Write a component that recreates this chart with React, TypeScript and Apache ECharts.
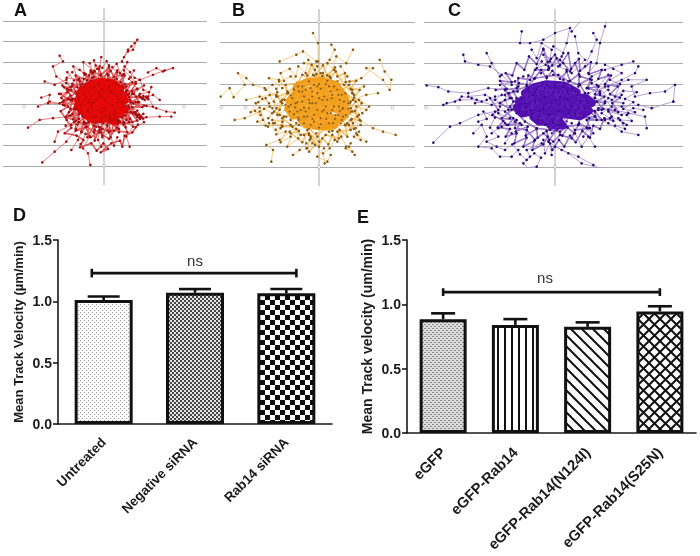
import React, { useEffect, useRef } from "react";
import * as echarts from "echarts";

// ---- spider plots: track coordinates (flat x,y lists) ----
const gridStep = 62;
const tracksA: number[][] = [
  [54,127,72,162,82,172,92,182,100,192,87,162,72,157,60,140],
  [132,94,157,107,177,97,207,107,182,100,147,87,107,72,67,52],
  [212,-26,187,-23,157,-13,127,-6,87,2,47,7],
  [202,-38,167,-38,127,-40,107,-43,87,-28,57,-23],
  [167,12,147,27,117,17,97,22,67,12],
  [142,50,132,22,147,-8,120,-5,100,5],
  [127,22,115,15,105,25,122,12,110,20,128,18,118,24,132,14],
  [118,-30,100,-35,108,-45,95,-30,112,-40,102,-32],
  [77,-128,67,-98,87,-68,67,-48,37,-38],
  [-41,-183,-48,-148,-63,-133,-43,-98,-23,-68],
  [-8,-128,-18,-108,-13,-78,-3,-58],
  [-185,-175,-148,-143,-113,-113,-83,-78,-53,-58],
  [-228,-71,-193,-48,-153,-43,-113,-38,-73,-28],
  [-148,-113,-138,-83,-98,-63,-63,-38],
  [-98,-138,-78,-108,-68,-83,-48,-48],
  [-198,-8,-163,7,-123,-3,-83,2],
  [-178,67,-148,57,-113,72,-98,42,-63,22],
  [-188,19,-163,27,-168,2,-133,2,-100,12],
  [-133,144,-123,127,-153,112,-143,82,-113,62,-78,37],
  [-73,102,-58,87,-73,67,-53,42],
  [-8,140,-13,112,-28,97,-18,62],
  [-43,122,-33,92,3,52],
  [25,110,40,95,30,70,55,85,45,50],
  [70,125,60,100,80,80,95,65,50,40],
  [75,-10,100,-20,120,-55,95,-70,60,-55],
  [40,-100,30,-125,15,-85,-5,-100,-15,-70],
  [-70,-120,-55,-90,-85,-75,-60,-55],
  [-115,-65,-90,-55,-105,-35,-75,-30],
  [-135,30,-110,35,-120,10,-90,15],
  [-110,95,-90,70,-100,50,-70,55,-55,30],
  [-30,130,-20,105,-45,85,-30,60],
  [90,100,75,75,100,45,120,55,85,30],
  [90,30,105,5,80,-25,100,-50,60,-60,70,-85,30,-80,15,-105,-15,-85,-40,-100,-55,-70,-85,-80,-85,-50,-115,-40,-100,-15,-125,5,-100,25,-120,50,-80,50,-85,85,-50,70,-40,100,-10,85,15,110,30,80,60,90,55,55,95,60,75,30],
  [70,15,85,-10,65,-35,75,-55,40,-60,45,-75,10,-80,-5,-75,-30,-85,-60,-60,-75,-55,-95,-30,-85,-5,-105,15,-85,35,-95,55,-65,60,-60,75,-30,80,-15,70,10,90,30,65,50,65,70,40],
  [-130,30,-110,15,-118,-5,-95,10,-105,-25,-88,-10,-92,-45,-72,-20,-80,-62,-60,-40,-68,-85,-45,-55,-50,-100,-30,-65,-28,-110,-12,-70,-5,-95,10,-65,20,-100,28,-60,45,-85,42,-55,65,-70,55,-40,85,-55,70,-25,98,-35,75,-10,115,-10,80,5,110,20,75,20,100,45,65,35,85,65,50,50,62,85,35,55,40,100,15,62,15,115,0,70,-15,105,-18,68,-38,95,-35,60,-55,90,-52,50,-75,75,-68,40,-95,60,-82,28,-110,45,-95,15],
  [-100,-35,-75,-45,-90,-15,-62,-28,-80,5,-55,-12,-78,25,-52,12,-72,48,-48,30,-55,60,-30,40,-35,78,-12,48,-10,88,8,55,12,85,30,50,38,75,48,40,62,60,68,28,85,38,78,12,95,5,72,-5,90,-25,62,-18,78,-45,50,-30,58,-58,35,-38,38,-72,15,-42,18,-82,-5,-48,-8,-85,-25,-48,-28,-78,-45,-40,-52,-68,-65,-35],
  [-125,55,-105,42,-128,18,-108,-8,-130,-22,-112,-48,-98,-72,-118,-88,-82,-95,-62,-108,-72,-130,-38,-118,-22,-140,-2,-118,12,-135,-10,-145,22,-118,48,-110,55,-128,62,-95,85,-85,102,-62],
  [-95,95,-112,78,-78,72,-92,112,-60,92,-62,125,-30,98,-25,115,-5,108,8,128,20,98,38,120,48,92,62,112,78,95,92,78,108,72,118,42,135,35,108,30],
  [25,-48,38,-52,30,-42,45,-50,35,-60,22,-55,40,-45,28,-58,48,-55],
  [95,-25,105,-32,112,-38,100,-40,118,-44,108,-36],
];
const coreA: number[] = [-68,38,-40,58,-10,66,25,62,48,44,-20,45,-70,26,-78,10,-40,20,10,30,52,30,62,10,20,12,-35,0,-78,-8,-62,-24,-20,-12,30,-5,60,-16,42,-32,0,-25,-50,-36,-30,-48,10,-44,30,-52,20,-38,-20,40,30,50,0,54,-50,44,-60,0,-15,8,45,18,15,-18,-40,-26];
const innerA: number[][] = [
  [-60,30,-30,50,-10,20,15,55,35,25,55,40,40,5,65,-5,30,-20,50,-40,15,-35,0,-10,-25,-40,-50,-20,-30,5,-70,-5,-55,20,-15,35,5,10,25,-5,-5,-25,-35,-15,-45,10,-20,15,-5,45,20,35,45,15],
  [-10,-55,5,-35,22,-52,35,-40,28,-30,40,-50,18,-44,10,-60,30,-48,-5,-42,-25,-56,-35,-40],
  [-75,15,-85,-15,-65,-30,-80,30,-60,50,-40,70,-15,55,10,72,35,60,60,50,72,25,55,5,75,-15,60,-35],
];
const tracksB: number[][] = [
  [-295,25,-268,50,-256,23,-223,60,-243,95,-218,80,-198,60,-163,50,-128,25],
  [-18,215,-3,185,-3,130,-18,90,2,55],
  [-118,130,-68,150,-48,160,-8,130,-38,75],
  [37,180,47,165,32,135,12,95],
  [102,165,82,125,52,145,32,85],
  [182,135,197,100,217,75,212,45,192,75,142,110,162,110,127,80,92,70],
  [230,-90,192,-80,162,-70,122,-45,92,-25],
  [177,35,142,30,102,15,72,5],
  [142,-15,112,-5,92,5,120,-30,100,-20],
  [142,-110,112,-85,102,-55,72,-35],
  [107,-150,82,-125,67,-95,52,-55],
  [17,-175,12,-145,32,-130,47,-105,22,-65],
  [-38,-130,-28,-105,-8,-85],
  [-78,-150,-58,-135,-38,-115,-45,-90],
  [-143,-170,-138,-135,-158,-120,-118,-105,-88,-80,-68,-55],
  [-253,-45,-223,-40,-178,-20,-148,-5],
  [-153,-65,-133,-55,-98,-35],
  [-218,15,-178,25,-128,30,-103,15],
  [-190,5,-160,20,-140,-10,-115,10,-125,-30,-100,-15],
  [-120,70,-85,85,-60,65,-95,40,-120,75,-150,80,-110,50],
  [-45,125,-5,115,25,125,45,105,10,85],
  [65,115,85,85,55,70,100,45,135,55],
  [-150,-55,-130,-75,-110,-50,-140,-45,-115,-70],
  [15,-130,-5,-155,25,-170,35,-150],
  [-25,-100,-35,-130,-20,-115,-30,-90],
  [115,-90,125,-105,105,-95,120,-80],
  [90,-125,100,-140,80,-130,95,-115],
  [100,35,130,-25,150,-5,120,15],
  [95,-45,125,-60,110,-70,90,-60],
  [105,30,90,60,70,45,110,10,95,-10,115,-35,85,-55,95,-75,55,-80,60,-100,20,-90,0,-110,-30,-85,-55,-90,-80,-65,-110,-65,-105,-35,-135,-20,-110,5,-125,25,-95,35,-100,60,-65,65,-50,90,-20,75,5,95,35,80,50,100,75,60,100,35],
  [85,15,95,-20,70,-45,80,-60,40,-65,30,-80,-5,-70,-35,-75,-60,-60,-85,-45,-90,-20,-100,0,-85,25,-75,50,-40,60,-25,70,10,70,30,65,60,60,80,30],
  [-170,18,-150,5,-165,-12,-140,-25,-152,-40,-128,-10,-148,30,-125,38,-135,10,-118,-30,-138,-55,-112,-62,-128,-88,-100,-80,-115,-112,-85,-95,-95,-125,-62,-100,-68,-72],
  [-30,-140,-12,-120,-25,-95,0,-125,10,-100,28,-118,40,-90,55,-110,62,-75,85,-95,78,-60,105,-72,98,-42,125,-48,108,-18,128,5,105,22,122,45,95,48,112,72,80,68,78,95,55,85,48,112,25,88,12,118,-8,92,-22,120,-35,88],
  [-160,45,-140,60,-128,48,-105,72,-115,95,-88,108,-70,85,-62,115,-40,95,-32,135,-12,105],
  [-175,-30,-192,-18,-168,-45,-185,-50,-160,-62,-178,-8,-205,-22,-182,8],
  [-110,-40,-85,-60,-60,-78,-85,-85,-50,-112,-30,-70,-5,-95,20,-65,40,-78,65,-55,85,-35,75,-10,95,10,78,35,60,50,35,72,10,85,-15,88,-45,72,-70,55,-92,35,-110,15,-118,-15],
];
const coreB: number[] = [-65,55,-35,68,10,72,48,60,65,40,0,50,-70,32,-88,12,-40,25,20,32,78,20,80,0,30,8,-50,5,-92,-10,-78,-32,-20,-15,45,-10,82,-22,64,-44,10,-32,-55,-42,-38,-58,18,-52,46,-60,15,-65,-15,-62,-45,-25,-70,-15,-10,-2,60,8,20,45,-30,42,-70,18];
const innerB: number[][] = [
  [-80,20,-60,40,-70,5,-45,25,-55,-15,-30,15,-40,45,-15,60,-20,25,5,48,10,15,30,55,38,20,55,45,62,15,45,-5,72,-10,50,-30,68,-45,35,-25,30,-55,10,-20,5,-58,-15,-30,-25,-60,-40,-20,-62,-38,-72,-8,-88,-20],
  [-85,0,-65,-20,-50,10,-30,-10,-10,5,15,-15,25,15,40,-15,60,-5,75,10,58,30,35,40,15,25,-5,35,-25,50,-50,40,-62,55,-30,70,0,62,25,72,45,55],
  [-60,-45,-45,-55,-20,-42,0,-68,22,-42,42,-55,58,-30,80,-30,70,-12,88,5,62,-18,20,-5,-5,-15,-35,-35,-15,-50,5,-40,25,-25,48,-42],
  [-75,45,-50,55,-20,40,0,20,-20,5,-45,-8,-65,8,-85,28,-92,-5,-75,-28,-45,-35,-28,5,-5,55,20,62,40,30,68,30,88,-12,72,-35],
];
const tracksC: number[][] = [
  [50,220,80,255,130,265,160,265,150,235,135,185,125,125,100,95],
  [-100,220,-105,185,-75,185,-35,195,0,215,45,230,35,185,20,145],
  [-70,165,-55,140,-40,185,-10,165,-20,115],
  [60,205,70,155,90,135,50,95],
  [115,215,125,195,110,160,90,115],
  [-275,150,-270,130,-230,120,-195,115,-160,90,-130,60],
  [-205,155,-190,125,-165,85],
  [-385,58,-350,53,-320,40,-260,35,-200,50,-150,45],
  [-335,0,-285,15,-235,15,-190,0,-150,15],
  [-325,5,-300,10,-280,25,-250,20,-220,10,-240,5,-205,15],
  [-365,-113,-315,-65,-285,-55,-230,-30,-180,-20,-140,-15],
  [-245,-85,-220,-60,-205,-95,-230,-125,-190,-130,-165,-155,-130,-155,-110,-135],
  [-190,-85,-170,-70,-150,-55],
  [-110,-205,-70,-200,-95,-175,-75,-155,-85,-135,-40,-115],
  [160,-205,115,-180,70,-155,20,-135,-20,-110],
  [155,-195,80,-175,40,-145,0,-125],
  [250,-90,200,-80,160,-55,120,-35],
  [275,-70,270,-35,220,-25,180,-15,130,-10],
  [355,10,360,60,330,40,285,35,240,25,230,55,275,75,220,75,160,55,100,35],
  [235,130,200,120,150,105,110,85,70,55],
  [250,115,240,95,200,75,150,55],
  [355,10,290,-10,250,0,200,-5,140,-15],
  [120,-125,100,-95,80,-125,60,-85,50,-55],
  [-10,-150,-15,-115,-30,-145,-35,-105],
  [85,-95,100,-70,115,-85,70,-60],
  [205,-55,190,-40,215,-60,170,-35,150,-45],
  [265,-15,235,-10,200,-30,160,-20],
  [200,30,170,15,205,5,150,10,120,20],
  [-150,-115,-130,-85,-160,-65,-120,-50,-100,-60],
  [-35,165,-15,130,10,115,35,105,25,75,-5,90],
  [-95,85,-120,70,-165,60,-140,35,-110,55],
  [-260,25,-210,30,-180,15,-160,30,-130,20],
  [130,-15,160,20,130,55,160,90,110,65,135,35],
  [-20,105,5,140,25,125,45,100,60,125,75,85,110,75,95,50,135,40,110,15,150,5,120,-20,140,-45,95,-45,105,-70,60,-75,50,-100,15,-90,-5,-110,-35,-85,-60,-105,-85,-75,-120,-70,-115,-45,-160,-40,-130,-15,-165,5,-135,20,-150,45,-115,50,-110,80,-75,75,-60,105,-20,105],
  [90,35,125,10,100,-15,120,-35,75,-40,70,-60,35,-65,15,-80,-15,-75,-55,-70,-90,-50,-115,-25,-135,-5,-115,20,-125,40,-85,55,-60,80,-25,85,10,90,40,70,75,60,90,35],
  [-165,-5,-180,25,-150,30,-135,-40,-170,-25,-145,-60],
  [165,-40,140,-25,170,-5,135,30,160,45,125,60],
  [-195,20,-170,-15,-188,-30,-155,-48,-172,-68,-135,-72,-148,-95,-115,-85,-122,-115,-85,-98,-95,-125,-62,-108,-68,-135,-35,-118,-22,-95,-8,-135,12,-105,28,-125,45,-92,62,-112,82,-78,105,-98,115,-62,135,-72,148,-40,175,-48,160,-15,190,-22,172,5,195,22,165,32,188,55,150,62,168,88,130,78,140,105,102,92,108,128,75,102,72,138,48,108,40,155,15,118,0,150,-22,128,-35,168,-55,122,-78,145,-92,105,-115,125,-128,88,-148,95,-130,68,-165,72,-145,48,-178,45],
  [-150,-20,-125,-40,-140,-60,-105,-55,-118,-80,-82,-65,-88,-92,-55,-72,-52,-98,-25,-78,-18,-105,5,-75,22,-92,38,-68,58,-85,72,-55,95,-68,102,-40,125,-45,118,-18,145,-12,125,10,148,25,120,32,130,55,100,50,105,78,72,62,72,92,45,72,35,100,15,78,-8,102,-25,80,-42,105,-62,78,-80,88,-85,60,-108,65,-112,40,-138,35,-125,10],
  [180,-62,210,-72,195,-45,230,-48,215,-30,240,-22,205,-12,235,8,210,18,245,38,205,42,180,25,195,62,165,75,200,95,175,108,150,120],
  [-230,-50,-205,-42,-215,-20,-180,-38,-195,-68,-170,-95,-205,-110,-175,-125,-150,-135,-128,-118,-105,-148,-85,-165,-62,-145,-42,-158,-55,-185,-85,-188,-100,-195],
  [-40,130,-55,110,-28,120,-12,138,-35,150,-18,110,-42,95,-8,118,15,135,25,155,-5,175],
];
const coreC: number[] = [-90,35,-65,52,-25,62,28,58,65,38,0,46,-85,24,-108,8,-60,20,20,30,92,20,110,5,40,10,-50,2,-115,-8,-98,-26,-30,-10,45,-5,102,-18,75,-34,10,-26,-65,-36,-48,-50,10,-46,24,-62,-12,-62,-35,-20,-75,-15,5,-12,75,-15,70,12,15,18,-35,35,-75,12];
const innerC: number[][] = [
  [-100,20,-80,40,-88,5,-65,28,-72,-15,-45,15,-55,45,-25,60,-30,25,0,50,5,15,25,52,38,20,62,40,75,12,52,-5,88,-8,60,-28,85,-35,42,-25,35,-50,10,-20,5,-60,-15,-30,-25,-58,-45,-20,-70,-35,-88,-8,-105,-20],
  [-105,0,-85,-20,-60,10,-35,-10,-10,5,15,-15,28,15,45,-15,70,-5,95,10,68,30,38,42,15,25,-5,38,-30,50,-60,40,-78,50,-38,65,0,60,28,62,52,50],
  [-30,-60,-15,-75,-5,-55,8,-72,-10,-85,15,-60,-5,-45,20,-40,-20,-30,-50,-45,-70,-28],
];

const tickA = [[-240, -8], [240, -8], [0, 248], [0, -186]];
const tickB = [[-293, -8], [-220, -8], [220, -8], [0, 248], [0, -186]];
const tickC = [[-387, -8], [-290, -8], [292, -8], [0, 248], [0, -186]];

// ---- bar charts ----
const catsD = ["Untreated", "Negative siRNA", "Rab14 siRNA"];
const valsD = [1.01, 1.07, 1.065];
const errsD = [0.03, 0.03, 0.035];
const catsE = ["eGFP", "eGFP-Rab14", "eGFP-Rab14(N124I)", "eGFP-Rab14(S25N)"];
const valsE = [0.885, 0.84, 0.825, 0.945];
const errsE = [0.045, 0.045, 0.035, 0.04];
const bracketD = { from: -0.13, to: 2.11, value: 1.23, lo: 1.195, hi: 1.265 };
const bracketE = { from: 0, to: 3, value: 1.095, lo: 1.065, hi: 1.125 };
const titleD = "Mean Track Velocity (µm/min)";
const titleE = "Mean Track velocity (um/min)";

function tile(w: number, h: number, bg: string, draw: (c: CanvasRenderingContext2D) => void) {
  const cv = document.createElement("canvas");
  cv.width = w;
  cv.height = h;
  const c = cv.getContext("2d")!;
  c.fillStyle = bg;
  c.fillRect(0, 0, w, h);
  draw(c);
  return { image: cv, repeat: "repeat" as const };
}

function patterns() {
  const sparse = tile(4, 4, "#fff", (c) => {
    c.fillStyle = "#9a9a9a";
    c.fillRect(0, 0, 1, 1);
    c.fillRect(2, 2, 1, 1);
  });
  const fine = tile(4, 4, "#e4e4e4", (c) => {
    c.fillStyle = "#444";
    c.fillRect(0, 0, 2, 2);
    c.fillRect(2, 2, 2, 2);
  });
  const checks = tile(10, 10, "#fff", (c) => {
    c.fillStyle = "#0c0c0c";
    c.fillRect(0, 0, 5, 5);
    c.fillRect(5, 5, 5, 5);
  });
  const speck = tile(4, 4, "#dcdcdc", (c) => {
    c.fillStyle = "#8c8c8c";
    c.fillRect(0, 0, 2, 1);
    c.fillRect(2, 2, 2, 1);
  });
  const vertical = tile(7, 2, "#fff", (c) => {
    c.fillStyle = "#111";
    c.fillRect(0, 0, 2, 2);
  });
  const stroke = (c: CanvasRenderingContext2D, pts: number[][]) => {
    c.strokeStyle = "#111";
    c.lineWidth = 2;
    pts.forEach((p) => {
      c.beginPath();
      c.moveTo(p[0], p[1]);
      c.lineTo(p[2], p[3]);
      c.stroke();
    });
  };
  const n = 11;
  const diag = tile(n, n, "#fff", (c) =>
    stroke(c, [[-n, -n, n, n], [0, -n, 2 * n, n], [-n, 0, n, 2 * n]])
  );
  const cross = tile(n, n, "#fff", (c) =>
    stroke(c, [[-n, -n, n, n], [0, -n, 2 * n, n], [-n, 0, n, 2 * n], [2 * n, -n, 0, n], [n, -n, -n, n], [2 * n, 0, 0, 2 * n]])
  );
  return { sparse, fine, checks, speck, vertical, diag, cross };
}

function flatten(tracks: number[][]) {
  const out: any[] = [];
  tracks.forEach((t) => {
    for (let i = 0; i + 1 < t.length; i += 2) out.push([t[i], t[i + 1]]);
    out.push(["-", "-"]);
  });
  return out;
}

const ink = "#1a1a1a";
const FONT = "'Liberation Sans', Arial, sans-serif";

export default function App() {
  const ref = useRef<HTMLDivElement>(null);
  useEffect(() => {
    document.body.style.margin = "0";
    const chart = echarts.init(ref.current!, undefined, { renderer: "svg" });
    const pat = patterns();

    const panels = [
      { left: 3, right: 207, top: 21, bottom: 166, xMin: -303, xMax: 309, tracks: tracksA, core: coreA, inner: innerA, ticks: tickA, line: "#dd5f5f", halo: "#d81c1c", dot: "#a30f12", fill: "#e50808", innerLine: "#c40a0a", innerDot: "#b50d0d", coreW: 8 },
      { left: 220, right: 415, top: 22, bottom: 167, xMin: -297, xMax: 288, tracks: tracksB, core: coreB, inner: innerB, ticks: tickB, line: "#f6c064", halo: "#f3aa36", dot: "#8a5c14", fill: "#f19e1c", innerLine: "#f7b13c", innerDot: "#8f5e14", coreW: 8 },
      { left: 424, right: 683, top: 22, bottom: 167, xMin: -393, xMax: 384, tracks: tracksC, core: coreC, inner: innerC, ticks: tickC, line: "#a58bc9", halo: "#6a32b8", dot: "#2d0a78", fill: "#5410b0", innerLine: "#6a2cc0", innerDot: "#3a0c90", coreW: 8 },
    ];

    const grid: any[] = [];
    const xAxis: any[] = [];
    const yAxis: any[] = [];
    const series: any[] = [];

    panels.forEach((p, i) => {
      grid.push({ left: p.left, top: p.top, width: p.right - p.left, height: p.bottom - p.top });
      xAxis.push({ type: "value", gridIndex: i, min: p.xMin, max: p.xMax, show: false });
      yAxis.push({
        type: "value", gridIndex: i, min: -3 * gridStep, max: 4 * gridStep, interval: gridStep,
        axisLine: { show: false }, axisTick: { show: false }, axisLabel: { show: false },
        splitLine: { show: true, lineStyle: { color: "#adadad", width: 1.2 } },
      });
      series.push({
        type: "line", xAxisIndex: i, yAxisIndex: i, data: [[0, -243], [0, 287]], clip: false,
        symbol: "none", lineStyle: { color: "#a8a8a8", width: 1 }, silent: true, z: 1,
      });
      series.push({
        type: "scatter", xAxisIndex: i, yAxisIndex: i, data: p.ticks, symbolSize: 3,
        itemStyle: { color: "#fff", borderColor: "#999", borderWidth: 0.7 }, silent: true, z: 1,
      });
      series.push({
        type: "line", xAxisIndex: i, yAxisIndex: i, data: flatten(p.tracks.filter((t) => t.length > 40)), connectNulls: false,
        symbol: "none", showSymbol: false,
        lineStyle: { color: p.halo, width: 1.5, opacity: 0.75 }, silent: true, z: 2,
      });
      series.push({
        type: "line", xAxisIndex: i, yAxisIndex: i, data: flatten(p.tracks), connectNulls: false,
        showSymbol: true, showAllSymbol: true, symbol: "circle", symbolSize: 2.6,
        lineStyle: { color: p.line, width: 0.8 }, itemStyle: { color: p.dot }, silent: true, z: 2,
      });
      series.push({
        type: "line", xAxisIndex: i, yAxisIndex: i, data: flatten([p.core]), connectNulls: false,
        symbol: "none", showSymbol: false,
        lineStyle: { color: p.fill, width: p.coreW, join: "round", cap: "round" },
        silent: true, z: 3,
      });
      series.push({
        type: "line", xAxisIndex: i, yAxisIndex: i, data: flatten(p.inner), connectNulls: false,
        showSymbol: true, showAllSymbol: true, symbol: "circle", symbolSize: 2.2,
        lineStyle: { color: p.innerLine, width: 0.8 }, itemStyle: { color: p.innerDot }, silent: true, z: 4,
      });
    });

    const bars = [
      { left: 58, right: 332, top: 240, bottom: 424, cats: catsD, vals: valsD, errs: errsD, fills: [pat.sparse, pat.fine, pat.checks], barW: 58, capW: 32, br: bracketD, nsY: 260, title: titleD, gap: 33, titleSize: 13, labelSize: 13.5, labelMargin: 16 },
      { left: 407, right: 696, top: 240, bottom: 433, cats: catsE, vals: valsE, errs: errsE, fills: [pat.speck, pat.vertical, pat.diag, pat.cross], barW: 47, capW: 24, br: bracketE, nsY: 277, title: titleE, gap: 33, titleSize: 14, labelSize: 14.8, labelMargin: 17 },
    ];

    bars.forEach((b, k) => {
      const i = panels.length + k;
      grid.push({ left: b.left, top: b.top, width: b.right - b.left, height: b.bottom - b.top });
      xAxis.push({
        type: "category", gridIndex: i, data: b.cats,
        axisLine: { lineStyle: { color: ink, width: 1.6 } },
        axisTick: { alignWithLabel: true, length: 5, lineStyle: { color: ink, width: 1.6 } },
        axisLabel: { interval: 0, rotate: 45, fontFamily: FONT, fontSize: b.labelSize, fontWeight: "bold", color: ink, margin: b.labelMargin },
      });
      yAxis.push({
        type: "value", gridIndex: i, min: 0, max: 1.5, interval: 0.5,
        name: b.title, nameLocation: "middle", nameGap: b.gap,
        nameTextStyle: { fontFamily: FONT, fontSize: b.titleSize, fontWeight: "bold", color: ink },
        axisLine: { show: true, onZero: false, lineStyle: { color: ink, width: 1.6 } },
        axisTick: { show: true, length: 5, lineStyle: { color: ink, width: 1.6 } },
        axisLabel: { fontFamily: FONT, fontSize: 14, fontWeight: "bold", color: ink, margin: 6, formatter: (v: number) => v.toFixed(1) },
        splitLine: { show: false },
      });
      series.push({
        type: "bar", xAxisIndex: i, yAxisIndex: i, barWidth: b.barW, silent: true,
        data: b.vals.map((v, j) => ({
          value: v,
          itemStyle: { color: b.fills[j], borderColor: "#111", borderWidth: 3 },
        })),
        z: 2,
      });
      series.push({
        type: "custom", xAxisIndex: i, yAxisIndex: i, silent: true, z: 3,
        data: b.vals.map((v, j) => [j, v, b.errs[j]]),
        encode: { x: 0, y: 1 },
        renderItem: (_: any, api: any) => {
          const c = api.value(0);
          const v = api.value(1);
          const hi = api.coord([c, v + api.value(2)]);
          const lo = api.coord([c, v]);
          const st = { stroke: "#111", lineWidth: 2.6, fill: "none" };
          return {
            type: "group",
            children: [
              { type: "line", shape: { x1: hi[0], y1: lo[1], x2: hi[0], y2: hi[1] }, style: st },
              { type: "line", shape: { x1: hi[0] - b.capW / 2, y1: hi[1], x2: hi[0] + b.capW / 2, y2: hi[1] }, style: st },
            ],
          };
        },
      });
      series.push({
        type: "custom", xAxisIndex: i, yAxisIndex: i, silent: true, z: 3,
        data: [[0, b.br.value]],
        encode: { x: 0, y: 1 },
        renderItem: (_: any, api: any) => {
          const band = api.size([1, 0])[0];
          const o = api.coord([0, b.br.value]);
          const x1 = o[0] + b.br.from * band;
          const x2 = o[0] + b.br.to * band;
          const top = api.coord([0, b.br.hi])[1];
          const bot = api.coord([0, b.br.lo])[1];
          const st = { stroke: "#111", lineWidth: 2.6, fill: "none" };
          return {
            type: "group",
            children: [
              { type: "line", shape: { x1, y1: o[1], x2, y2: o[1] }, style: st },
              { type: "line", shape: { x1, y1: top, x2: x1, y2: bot }, style: st },
              { type: "line", shape: { x1: x2, y1: top, x2, y2: bot }, style: st },
            ],
          };
        },
      });
    });

    const letter = (text: string, x: number, y: number) => ({
      type: "text", x, y,
      style: { text, fontFamily: FONT, fontSize: 18, fontWeight: "bold", fill: "#111", textVerticalAlign: "middle" },
    });
    const ns = (x: number, y: number) => ({
      type: "text", x, y,
      style: { text: "ns", fontFamily: FONT, fontSize: 15, fill: "#333", textAlign: "center", textVerticalAlign: "middle" },
    });

    chart.setOption({
      animation: false,
      backgroundColor: "#fff",
      grid, xAxis, yAxis, series,
      graphic: [
        letter("A", 14, 10), letter("B", 232, 10), letter("C", 448, 10),
        letter("D", 13, 215), letter("E", 357, 217),
        ns(195, bars[0].nsY), ns(545, bars[1].nsY),
      ],
    });
    return () => chart.dispose();
  }, []);
  return <div ref={ref} style={{ width: 700, height: 556, filter: "blur(0.35px)" }} />;
}
